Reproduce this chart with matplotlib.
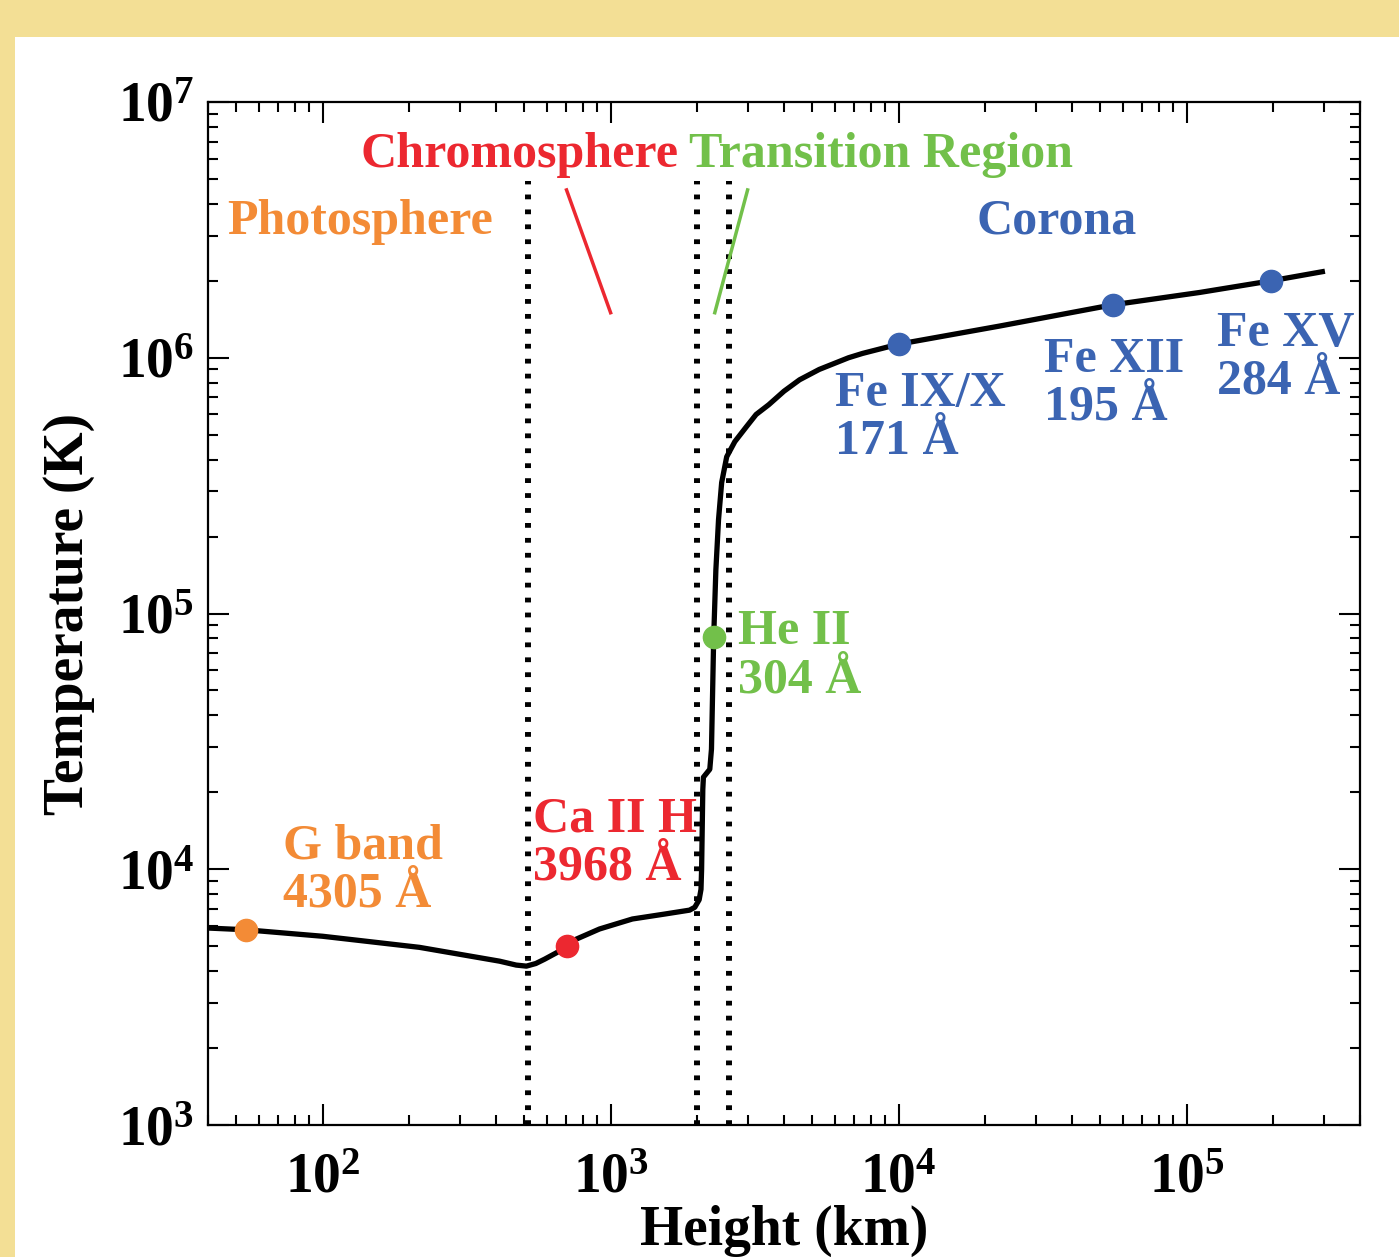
import math
import matplotlib
matplotlib.use('Agg')
import matplotlib.pyplot as plt
from matplotlib.patches import Rectangle
from matplotlib.ticker import LogLocator, FuncFormatter, NullFormatter

plt.rcParams['font.family'] = ['Liberation Serif', 'DejaVu Serif']
plt.rcParams['font.weight'] = 'bold'
plt.rcParams['mathtext.fontset'] = 'custom'
plt.rcParams['mathtext.rm'] = 'Liberation Serif:bold'
plt.rcParams['mathtext.bf'] = 'Liberation Serif:bold'

# 温度随高度变化曲线 (km, K)
height = [40, 54, 100, 217, 412, 470, 510, 550, 590, 650, 703, 760, 915, 1190, 1540, 1880, 1960,
          2030, 2060, 2070, 2090, 2100, 2210, 2240, 2280, 2320, 2370, 2430, 2530, 2700, 2960,
          3200, 3540, 4000, 4530, 5300, 6700, 7500, 10000, 22400, 55300, 111000, 197000, 296000]
temp = [5890, 5800, 5470, 4950, 4370, 4220, 4180, 4280, 4450, 4720, 5000, 5330, 5840, 6390, 6680,
        6920, 7100, 7600, 8350, 10000, 20500, 22900, 24600, 29500, 80600, 148000, 233000, 325000,
        410000, 470000, 537000, 600000, 655000, 740000, 820000, 900000, 1.0e6, 1.04e6, 1.13e6,
        1.33e6, 1.61e6, 1.80e6, 2.0e6, 2.17e6]

# 谱线点
line_h = [54, 703, 2280, 10000, 55300, 197000]
line_T = [5800, 5000, 80600, 1.13e6, 1.61e6, 2.0e6]
line_names = ['G band\n4305 Å', 'Ca II H\n3968 Å', 'He II\n304 Å',
              'Fe IX/X\n171 Å', 'Fe XII\n195 Å', 'Fe XV\n284 Å']
line_text_h = [72.6, 536, 2760, 6000, 32100, 127000]
line_text_T = [9.9e3, 1.26e4, 6.8e4, 5.8e5, 7.9e5, 1.0e6]

# 分层边界
bounds = [515, 1990, 2570]

region_names = ['Photosphere', 'Chromosphere', 'Transition Region', 'Corona']
region_h = [135, 483, 8660, 35400]
region_T = [3.4e6, 6.2e6, 6.2e6, 3.4e6]

orange = '#F38B36'
red = '#EC2830'
green = '#72C04A'
blue = '#3B64B2'
line_colors = [orange, red, green, blue, blue, blue]
region_colors = [orange, red, green, blue]

fig = plt.figure(figsize=(13.99, 12.57), dpi=100)
fig.patch.set_facecolor('#F3DF95')
fig.patches.append(Rectangle((15/1399, 0), 1, 1 - 37/1257, transform=fig.transFigure,
                             facecolor='white', edgecolor='none', zorder=-10))

ax = fig.add_axes([208/1399, 1 - 1125/1257, 1152/1399, 1023/1257])
ax.set_zorder(5)
ax.set_xscale('log')
ax.set_yscale('log')
ax.set_xlim(40, 4e5)
ax.set_ylim(1e3, 1e7)

for b in bounds:
    ax.plot([b, b], [1e3, 4.9e6], color='black', linewidth=4.3,
            linestyle=(0, (0.8, 1.7)), zorder=2)

ax.plot(height, temp, color='black', linewidth=3.8, zorder=3, solid_joinstyle='round')

for h, T, c in zip(line_h, line_T, line_colors):
    ax.plot(h, T, 'o', color=c, markersize=16, zorder=4)

for name, h, T, c in zip(line_names, line_text_h, line_text_T, line_colors):
    ax.text(h, T, name, color=c, fontsize=36, fontweight='bold', ha='left', va='center',
            linespacing=1.05, zorder=5)

for name, h, T, c in zip(region_names, region_h, region_T, region_colors):
    ax.text(h, T, name, color=c, fontsize=36, fontweight='bold', ha='center', va='center')

# 指示线
ax.plot([703, 1000], [4.53e6, 1.5e6], color=red, linewidth=2.5)
ax.plot([2990, 2300], [4.53e6, 1.5e6], color=green, linewidth=2.5)

ax.xaxis.set_major_locator(LogLocator(base=10, numticks=10))
ax.yaxis.set_major_locator(LogLocator(base=10, numticks=10))
ax.xaxis.set_minor_locator(LogLocator(base=10, subs=range(2, 10), numticks=20))
ax.yaxis.set_minor_locator(LogLocator(base=10, subs=range(2, 10), numticks=20))
fmt = FuncFormatter(lambda v, p: r'$\mathbf{10^{%d}}$' % round(math.log10(v)))
ax.xaxis.set_major_formatter(fmt)
ax.yaxis.set_major_formatter(fmt)
ax.xaxis.set_minor_formatter(NullFormatter())
ax.yaxis.set_minor_formatter(NullFormatter())

ax.tick_params(which='both', direction='in', top=True, right=True, width=1.5, labelsize=40)
ax.tick_params(which='major', length=15)
ax.tick_params(which='minor', length=7.5)
ax.tick_params(axis='x', which='major', pad=20)
ax.tick_params(axis='y', which='major', pad=10)
for s in ax.spines.values():
    s.set_linewidth(1.6)

ax.set_xlabel('Height (km)', fontsize=40, fontweight='bold', labelpad=0)
ax.set_ylabel('Temperature (K)', fontsize=40, fontweight='bold', labelpad=16)

fig.savefig('out.png', dpi=100, facecolor=fig.get_facecolor())
